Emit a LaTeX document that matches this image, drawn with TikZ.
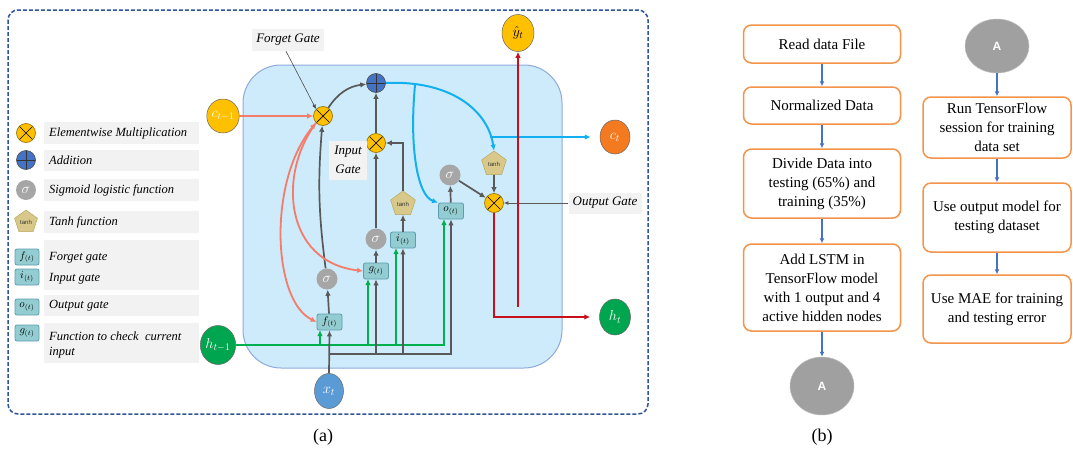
\documentclass[tikz,border=0pt]{standalone}
\usepackage{fontspec}
\setmainfont{Liberation Serif}
\setsansfont{Liberation Sans}
\usetikzlibrary{shapes.geometric,arrows.meta}
\definecolor{cYel}{HTML}{FFC000}
\definecolor{cYelD}{HTML}{8C6A00}
\definecolor{cAdd}{HTML}{4472C4}
\definecolor{cSig}{HTML}{A6A6A6}
\definecolor{cTanh}{HTML}{D8C98A}
\definecolor{cTanhD}{HTML}{B8A65A}
\definecolor{cGate}{HTML}{93CDD1}
\definecolor{cGateD}{HTML}{5C9DB0}
\definecolor{cCell}{HTML}{CDEBFA}
\definecolor{cCellD}{HTML}{8FAADC}
\definecolor{cDash}{HTML}{2F5597}
\definecolor{cGry}{HTML}{595959}
\definecolor{cGrn}{HTML}{00B050}
\definecolor{cRed}{HTML}{C8101A}
\definecolor{cSalm}{HTML}{F47C6A}
\definecolor{cCyan}{HTML}{12B0F0}
\definecolor{cOrg}{HTML}{F47A20}
\definecolor{cHgrn}{HTML}{00A54F}
\definecolor{cXblue}{HTML}{5B9BD5}
\definecolor{cBox}{HTML}{F2F2F2}
\definecolor{cFlow}{HTML}{F4934A}
\definecolor{cFarr}{HTML}{4472C4}
\definecolor{cA}{HTML}{A0A0A0}
\begin{document}
\begin{tikzpicture}[x=1pt,y=-1pt,
  arr/.style={-{Latex[length=6pt,width=5.5pt]}},
  gry/.style={draw=cGry,line width=1.7pt},
  grnl/.style={draw=cGrn,line width=1.8pt},
  redl/.style={draw=cRed,line width=1.8pt},
  salm/.style={draw=cSalm,line width=1.8pt},
  cyn/.style={draw=cCyan,line width=2pt},
  mul/.style={circle,fill=cYel,draw=cYelD,line width=0.6pt,minimum size=19pt,inner sep=0pt,
    path picture={\draw[black,line width=0.7pt] (path picture bounding box.north west)--(path picture bounding box.south east)
      (path picture bounding box.north east)--(path picture bounding box.south west);}},
  addn/.style={circle,fill=cAdd,draw=black!70,line width=0.6pt,minimum size=19pt,inner sep=0pt,
    path picture={\draw[black!80,line width=0.7pt] (path picture bounding box.north)--(path picture bounding box.south)
      (path picture bounding box.east)--(path picture bounding box.west);}},
  sig/.style={circle,fill=cSig,minimum size=21pt,inner sep=0pt,text=white,font=\fontsize{14}{14}\selectfont},
  tanhp/.style={regular polygon,regular polygon sides=5,fill=cTanh,draw=cTanhD,line width=0.5pt,minimum size=26pt,inner sep=0pt,
    font=\sffamily\fontsize{6}{6}\selectfont,text=black!80},
  gate/.style={rectangle,rounded corners=2pt,fill=cGate,draw=cGateD,line width=0.8pt,minimum width=25pt,minimum height=16pt,inner sep=0pt,
    font=\fontsize{10.5}{10}\selectfont},
  big/.style={ellipse,draw=black!60,line width=0.5pt,inner sep=0pt,font=\fontsize{14}{14}\selectfont},
  legtxt/.style={anchor=west,font=\itshape\fontsize{12.5}{15}\selectfont,align=left,inner sep=0pt},
  lab/.style={fill=cBox,font=\itshape\fontsize{13}{16}\selectfont,inner sep=2pt,align=center},
  fbox/.style={draw=cFlow,line width=1.5pt,rounded corners=8pt,fill=white,align=center,
    font=\fontsize{15}{19}\selectfont,inner sep=1pt},
  barr/.style={draw=cFarr,line width=1.5pt,-{Latex[length=5pt,width=5pt]}},
  anode/.style={ellipse,fill=cA,draw=black!25,line width=0.5pt,text=white,font=\sffamily\bfseries\fontsize{12}{12}\selectfont,inner sep=0pt}
]
\useasboundingbox (0,0) rectangle (1073,450);
% outer dashed frame
\draw[draw=cDash,line width=1.5pt,dash pattern=on 4pt off 2pt,rounded corners=10pt] (8,10) rectangle (648,414);
% cell
\draw[fill=cCell,draw=cCellD,line width=1pt,rounded corners=38pt] (243,65) rectangle (562,368);

% legend
\foreach \ya/\yb in {122/144,150/171,179/201,211/233,240/290,295/316,323/363}
  \fill[cBox] (44,\ya) rectangle (199,\yb);
\node[mul] (lmul) at (26,133) {};
\node[addn] (ladd) at (26,160) {};
\node[sig,minimum size=20pt] (lsig) at (26,190) {$\sigma$};
\node[tanhp,minimum size=24pt] (ltanh) at (26,222) {tanh};
\node[gate,minimum width=24pt] (lf) at (27,257) {$f_{(t)}$};
\node[gate,minimum width=24pt] (li) at (27,277) {$i_{(t)}$};
\node[gate,minimum width=24pt] (lo) at (27,307) {$o_{(t)}$};
\node[gate,minimum width=24pt] (lg) at (27,333) {$g_{(t)}$};
\node[legtxt] (t1) at (49,133) {Elementwise Multiplication};
\node[legtxt] (t2) at (49,160) {Addition};
\node[legtxt] (t3) at (49,190) {Sigmoid logistic function};
\node[legtxt] (t4) at (49,222) {Tanh function};
\node[legtxt] (t5) at (49,258) {Forget gate};
\node[legtxt] (t6) at (49,279) {Input gate};
\node[legtxt] (t7) at (49,306) {Output gate};
\node[legtxt] (t8) at (49,345) {Function to check\ \ current\\input};

% cell nodes
\node[big,fill=cYel,minimum width=28pt,minimum height=34pt,text=white] (cprev) at (223,116) {$c_{t-1}$};
\node[big,fill=cHgrn,minimum width=33pt,minimum height=39pt,text=white] (hprev) at (218,345) {$h_{t-1}$};
\node[big,fill=cXblue,minimum width=29pt,minimum height=35pt,text=white] (xt) at (329,391) {$x_t$};
\node[big,fill=cYel,minimum width=32pt,minimum height=37pt,text=black] (yh) at (518,33) {$\hat{y}_t$};
\node[big,fill=cOrg,minimum width=30pt,minimum height=34pt,text=white] (ct) at (615,137) {$c_t$};
\node[big,fill=cHgrn,minimum width=31pt,minimum height=36pt,text=white] (ht) at (615,317) {$h_t$};

\node[mul] (fx) at (323,116) {};
\node[addn] (ad) at (376,83) {};
\node[mul] (ix) at (376,143) {};
\node[mul] (ox) at (494,203) {};
\node[sig] (fs) at (327,279) {$\sigma$};
\node[sig] (gs) at (376,239) {$\sigma$};
\node[sig] (os) at (450,175) {$\sigma$};
\node[tanhp] (it) at (403,204) {tanh};
\node[tanhp] (ot) at (494,164) {tanh};
\node[gate] (f) at (329.5,322) {$f_{(t)}$};
\node[gate] (g) at (376,271) {$g_{(t)}$};
\node[gate] (i) at (403,240) {$i_{(t)}$};
\node[gate] (o) at (451,211) {$o_{(t)}$};

\node[lab,minimum width=72pt,minimum height=22pt] (fl) at (288,40) {Forget Gate};
\node[lab,minimum width=38pt,minimum height=39pt,font=\itshape\fontsize{13}{19}\selectfont] (il) at (348,160) {Input\\Gate};
\node[lab,minimum width=73pt,minimum height=21pt] (ol) at (605,203) {Output Gate};

% coordinates
\coordinate (fgr) at (320,330);
\coordinate (ggr) at (368,279);
\coordinate (igr) at (396,248);
\coordinate (ogr) at (444,219);
\coordinate (xb) at (329,354);
\coordinate (cb) at (415,85);
\coordinate (cc) at (490,137);
\coordinate (rb) at (518,307);

% green lines
\draw[grnl,arr] (hprev.east) -| (ogr);
\draw[grnl,arr] (hprev.east -| fgr) -- (fgr);
\draw[grnl,arr] (hprev.east -| ggr) -- (ggr);
\draw[grnl,arr] (hprev.east -| igr) -- (igr);
% gray input lines
\draw[gry,arr] (xt.north) -- (f.south);
\draw[gry,arr] (xb) -| (o.south);
\draw[gry,arr] (xb -| g.south) -- (g.south);
\draw[gry,arr] (xb -| i.south) -- (i.south);
% gates
\draw[gry,arr] (f) -- (fs);
\draw[gry,arr] (fs) to[bend left=6] (fx);
\draw[gry,arr] (g) -- (gs);
\draw[gry,arr] (gs) -- (ix);
\draw[gry,arr] (ix) -- (ad);
\draw[gry,arr] (i) -- (it);
\draw[gry,arr] (it.north) |- (ix.east);
\draw[gry,arr] (fx) to[bend left=25] (ad);
\draw[gry,arr] (o) -- (os);
\draw[gry,arr] (os) -- (ox);
\draw[gry,arr] (ot) -- (ox);
\draw[draw=cGry,line width=0.9pt,-{Latex[length=4.5pt,width=4pt]}] (ol.west) -- (ox.east);
\draw[draw=black!70,line width=0.6pt,-{Latex[length=4.5pt,width=4pt]}] ([xshift=-2pt]fl.south) -- (fx.north west);
% salmon
\draw[salm,arr] (cprev.east) -- (fx.west);
\draw[salm,{Latex[length=6pt,width=5.5pt]}-{Latex[length=6pt,width=5.5pt]}] (fx.south west) .. controls (268,180) and (272,300) .. (f.west);
\draw[salm,arr] (fx.south west) .. controls (277,175) and (285,262) .. (g.west);
% cyan
\draw[cyn,arr] (ad.east) .. controls (450,80) and (488,110) .. (ot.north);
\draw[cyn,arr] (cb) .. controls (409,150) and (418,196) .. (o.north west);
\draw[cyn,arr,shorten >=9pt] (cc) -- (ct.west);
% red
\draw[redl,arr,shorten >=9pt] (ox.south) |- (ht.west);
\draw[redl,arr] (rb) -- (yh.south);

\node[font=\fontsize{18}{18}\selectfont] (capa) at (323,437) {(a)};
\node[font=\fontsize{18}{18}\selectfont] (capb) at (822,437) {(b)};

% flowchart
\node[fbox,minimum width=157pt,minimum height=38pt] (r1) at (822,44) {Read data File};
\node[fbox,minimum width=157pt,minimum height=37pt] (r2) at (822,105.5) {Normalized Data};
\node[fbox,minimum width=157pt,minimum height=69pt] (r3) at (822,183.5) {Divide Data into\\testing (65\%) and\\training (35\%)};
\node[fbox,minimum width=157pt,minimum height=87pt] (r4) at (822,287.5) {Add LSTM in\\TensorFlow model\\with 1 output and 4\\active hidden nodes};
\node[anode,minimum width=64pt,minimum height=58pt] (a1) at (822,386) {A};
\node[anode,minimum width=64pt,minimum height=54pt] (a2) at (997,46) {A};
\node[fbox,minimum width=148pt,minimum height=61pt] (s1) at (997,127.5) {Run TensorFlow\\session for training\\data set};
\node[fbox,minimum width=148pt,minimum height=69pt] (s2) at (997,217.5) {Use output model for\\testing dataset};
\node[fbox,minimum width=148pt,minimum height=68pt] (s3) at (997,309) {Use MAE for training\\and testing error};
\draw[barr] (r1) -- (r2);
\draw[barr] (r2) -- (r3);
\draw[barr] (r3) -- (r4);
\draw[barr] (r4) -- (a1);
\draw[barr] (a2) -- (s1);
\draw[barr] (s1) -- (s2);
\draw[barr] (s2) -- (s3);
\end{tikzpicture}
\end{document}
